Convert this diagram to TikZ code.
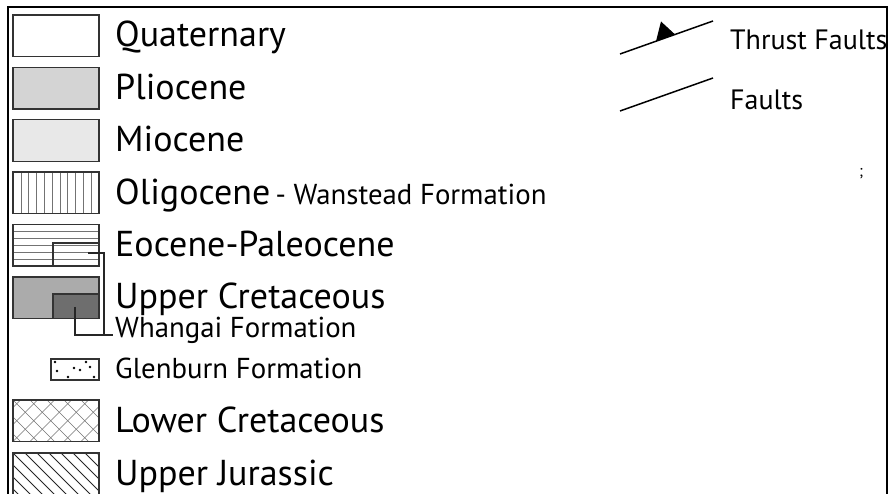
\documentclass[tikz,border=0pt]{standalone}
\usepackage{fontspec}
\setmainfont{PT Sans}
\begin{document}
\begin{tikzpicture}[x=1pt,y=-1pt,
  box/.style={draw=black!80, line width=1.4pt},
  insetbox/.style={draw=black!80, line width=1.2pt},
  big/.style={anchor=base west, inner sep=0pt, font=\fontsize{36}{40}\selectfont},
  small/.style={anchor=base west, inner sep=0pt, font=\fontsize{28.8}{32}\selectfont},
  hatch/.style={line width=0.6pt, draw=black!55},
  darkhatch/.style={line width=0.8pt, draw=black!85},
  lead/.style={line width=1.2pt, draw=black!85},
  fault/.style={line width=1.5pt}]
\useasboundingbox (0,0) rectangle (892,494);
% frame
\draw[line width=2pt] (8,496) -- (8,7) -- (887,7) -- (887,496);

% Quaternary
\draw[box, fill=white] (13,15) rectangle (99,56.5);
\node[big] (qua) at (115,47) {Quaternary};
% Pliocene
\draw[box, fill=black!17] (13,67.4) rectangle (99,108.9);
\node[big] (pli) at (115,99.4) {Pliocene};
% Miocene
\draw[box, fill=black!9] (13,119.8) rectangle (99,161.3);
\node[big] (mio) at (115,151.8) {Miocene};
% Oligocene
\begin{scope}
\clip (13,172.2) rectangle (99,213.7);
\foreach \i in {1,...,10} \draw[hatch] ({13+7.8*\i},172.2) -- ++(0,41.5);
\end{scope}
\draw[box] (13,172.2) rectangle (99,213.7);
\node[big] (oli) at (115,204.2) {Oligocene};
\node[small] (wan) at ([xshift=5pt]oli.base east) {- Wanstead Formation};
% Eocene-Paleocene
\foreach \k in {1,...,5} \draw[hatch] (13,{224.6+7*\k}) -- (99,{224.6+7*\k});
\draw[box] (13,224.6) rectangle (99,266.1);
\draw[insetbox] (53,243) rectangle (99,266.1);
\coordinate (eoin) at (88,253);
\node[big] (eoc) at (115,256.6) {Eocene-Paleocene};
% Upper Cretaceous
\draw[box, fill=black!33] (13,277) rectangle (99,318.5);
\draw[insetbox, fill=black!57] (53,294) rectangle (99,318.5);
\coordinate (ucin) at (75,307);
\node[big] (ucr) at (115,309) {Upper Cretaceous};
% Whangai leaders
\node[small] (wha) at (115,338) {Whangai Formation};
\coordinate (lj) at (104,335);
\draw[lead] (eoin) -- (eoin -| lj) -- (lj);
\draw[lead] (ucin) -- (ucin |- lj) -- (lj) -- ([xshift=-2pt]wha.west |- lj);
% Glenburn
\draw[insetbox] (51,359) rectangle (99,380);
\foreach \p in {(55,362),(57,371),(68,377),(74,368),(80,370),(86,362),(90,367),(94,377)}
  \fill \p circle (1.3pt);
\node[small] (gle) at (115,379) {Glenburn Formation};
% Lower Cretaceous
\begin{scope}
\clip (13,400) rectangle (99,441.5);
\foreach \i in {-3,...,6} {
  \draw[hatch] ({13+17*\i},400) -- ++(41.5,41.5);
  \draw[hatch] ({13+17*\i},441.5) -- ++(41.5,-41.5);
}
\end{scope}
\draw[box] (13,400) rectangle (99,441.5);
\node[big] (lcr) at (115,432) {Lower Cretaceous};
% Upper Jurassic
\begin{scope}
\clip (13,453) rectangle (99,496);
\foreach \i in {-4,...,8} \draw[darkhatch] ({13+12*\i},453) -- ++(43,43);
\end{scope}
\draw[box] (13,496) -- (13,453) -- (99,453) -- (99,496);
\node[big] (uju) at (115,485) {Upper Jurassic};

% faults
\coordinate (t1) at (620,54);
\coordinate (t2) at (713,21);
\draw[fault] (t1) -- (t2);
\fill (656,41.2) -- (661,21.5) -- (675,34.4) -- cycle;
\node[anchor=base west, inner sep=0pt, font=\fontsize{28}{32}\selectfont] (thr) at (730,50) {Thrust Faults};
\coordinate (f1) at (620,111);
\coordinate (f2) at (713,78);
\draw[fault] (f1) -- (f2);
\node[anchor=base west, inner sep=0pt, font=\fontsize{28}{32}\selectfont] (fau) at (730,110) {Faults};
% stray mark
\node[anchor=base west, inner sep=0pt, font=\fontsize{16}{16}\selectfont] (mark) at (859,177) {;};
\end{tikzpicture}
\end{document}
